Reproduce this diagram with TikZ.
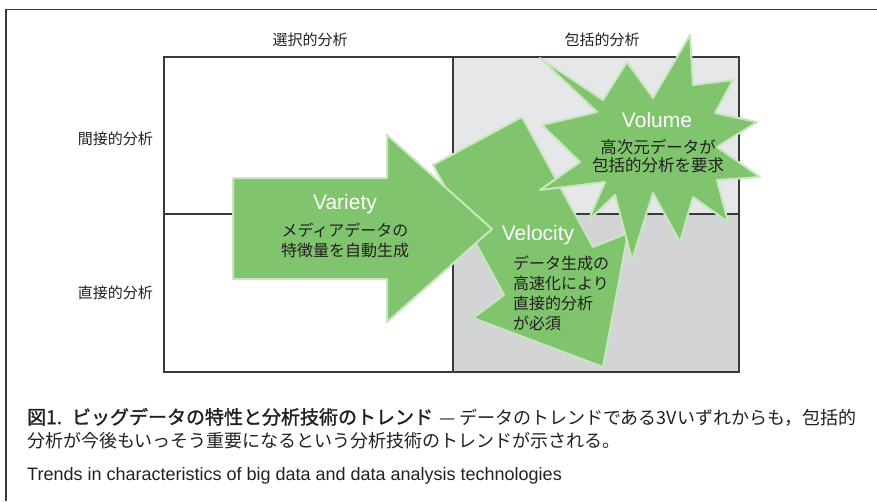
\documentclass[tikz,border=0pt]{standalone}
\usepackage{fontspec}
\setmainfont{Liberation Sans}
\newfontfamily\jp{Noto Sans CJK JP}
\newfontfamily\jpb[FakeBold=1.5]{Noto Sans CJK JP}
\definecolor{gfill}{HTML}{80C46E}
\definecolor{gline}{HTML}{C9E6C1}
\definecolor{grayA}{HTML}{E6E7E8}
\definecolor{grayB}{HTML}{D3D4D6}
\definecolor{framec}{HTML}{3A3A3A}
\definecolor{txt}{HTML}{231F20}
\tikzset{
  boxline/.style={draw=framec, line width=1.2pt},
  blob/.style={fill=gfill, draw=gline, line width=2pt, line join=round},
  axislab/.style={text=txt, font=\jp\fontsize{15}{18}\selectfont, inner sep=0pt},
  vlab/.style={text=white, font=\fontsize{21}{24}\selectfont, inner sep=0pt},
  jtext/.style={text=txt, font=\jp\fontsize{16}{20}\selectfont, inner sep=0pt},
  captxt/.style={text=txt, anchor=west, inner sep=0pt}
}
\begin{document}
\begin{tikzpicture}[x=1pt,y=-1pt]
\useasboundingbox (0,0) rectangle (877,501);
% outer frame
\draw[framec, line width=1.5pt] (6,501) -- (6,9.5) -- (877,9.5);
% quadrant backgrounds
\fill[grayA] (453,57) rectangle (739,214);
\fill[grayB] (453,214) rectangle (739,372);
\draw[boxline] (164,57) rectangle (739,372);
\draw[boxline] (453,57) -- (453,372);
\draw[boxline] (164,214) -- (739,214);
% Velocity arrow
\draw[blob] (433,165) -- (522,117) -- (593,247) -- (628,233) -- (603,367) -- (473,318) -- (504,295) -- cycle;
% Volume starburst
\draw[blob] (690,35) -- (693,85) -- (733,80) -- (715,113) -- (757,122) -- (717,147) -- (760,177) -- (717,180) -- (728,222) -- (693,197) -- (680,242) -- (653,193) -- (632,260) -- (615,195) -- (588,221) -- (605,182) -- (540,190) -- (580,162) -- (542,125) -- (597,112) -- (540,58) -- (603,100) -- (627,62) -- (653,98) -- cycle;
% Variety arrow
\draw[blob] (233,178) -- (387,178) -- (387,135) -- (492,229) -- (387,322) -- (387,279) -- (233,279) -- cycle;
% axis labels
\node[axislab] (sel) at (310,40) {選択的分析};
\node[axislab] (inc) at (602,40) {包括的分析};
\node[axislab, anchor=east] (ind) at (153,139) {間接的分析};
\node[axislab, anchor=east] (dir) at (153,293) {直接的分析};
% Variety
\node[vlab] (varl) at (345,204) {Variety};
\node[jtext, align=center] (vart) at (345,240) {メディアデータの\\特徴量を自動生成};
% Velocity
\node[vlab] (vell) at (538,235) {Velocity};
\node[jtext, align=left, anchor=west] (velt) at (513,293) {データ生成の\\高速化により\\直接的分析\\が必須};
% Volume
\node[vlab] (voll) at (657,120) {Volume};
\node[jtext, align=center, font=\jp\fontsize{16.5}{18}\selectfont] (volt) at (658,156) {高次元データが\\包括的分析を要求};
% caption
\node[captxt] (cap1) at (27,417) {{\jpb\fontsize{19}{22}\selectfont 図1.\hspace{10pt}ビッグデータの特性と分析技術のトレンド}\hspace{6pt}{\jp\fontsize{18}{22}\selectfont — データのトレンドである3Vいずれからも，包括的}};
\node[captxt] (cap2) at (27,441) {\jp\fontsize{18}{22}\selectfont 分析が今後もいっそう重要になるという分析技術のトレンドが示される。};
\node[captxt] (cap3) at (27,476) {\fontsize{18}{20}\selectfont Trends in characteristics of big data and data analysis technologies};
\end{tikzpicture}
\end{document}
